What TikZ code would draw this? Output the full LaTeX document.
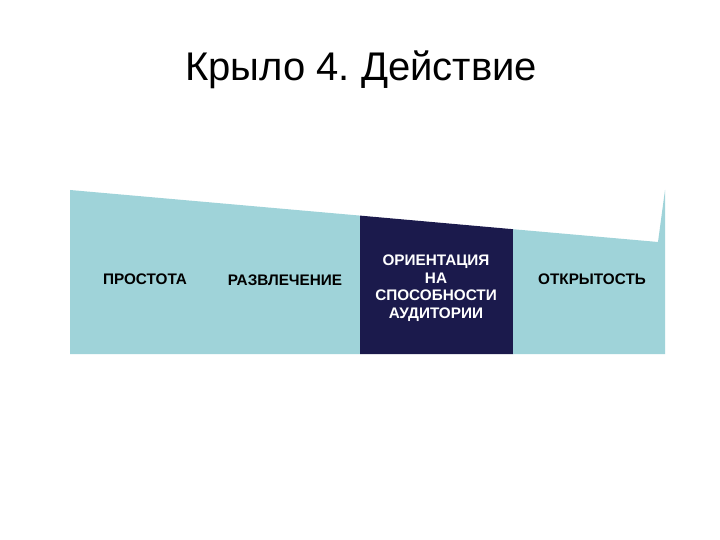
\documentclass[tikz,border=0pt]{standalone}
\usepackage{fontspec}
\setmainfont{Liberation Sans}
\frenchspacing
\definecolor{lightteal}{HTML}{9FD3D9}
\definecolor{navy}{HTML}{1B1A4C}
\begin{document}
\begin{tikzpicture}[x=1pt,y=-1pt,
  lbl/.style={font=\bfseries\fontsize{15.3}{17.5}\selectfont, align=center, inner sep=0pt},
  ttl/.style={font=\fontsize{40}{44}\selectfont, inner sep=0pt}]
\useasboundingbox[fill=white] (0,0) rectangle (720,540);
\fill[lightteal] (70,190) -- (360,215.6) -- (360,354) -- (70,354) -- cycle;
\fill[navy] (360,215.6) -- (513,229.2) -- (513,354) -- (360,354) -- cycle;
\fill[lightteal] (513,229.2) -- (658,242) -- (665,190) -- (665,354) -- (513,354) -- cycle;
\node[ttl] (title) at (361,70) {Крыло 4.\ Действие};
\node[lbl] (a) at (145,279) {ПРОСТОТА};
\node[lbl] (b) at (285,280) {РАЗВЛЕЧЕНИЕ};
\node[lbl, text=white] (c) at (436,288) {ОРИЕНТАЦИЯ\\НА\\СПОСОБНОСТИ\\АУДИТОРИИ};
\node[lbl] (d) at (592,279) {ОТКРЫТОСТЬ};
\end{tikzpicture}
\end{document}
